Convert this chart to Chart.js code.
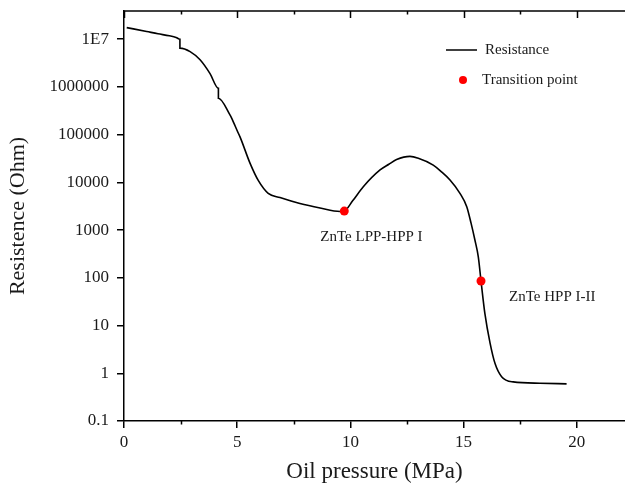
<!DOCTYPE html>
<html>
<head>
<meta charset="utf-8">
<script src="https://cdn.jsdelivr.net/npm/chart.js@4/dist/chart.umd.min.js"></script>
<style>
    html, body { margin: 0; padding: 0; background: #fff; }
    #wrap { width: 625px; height: 486px; }
</style>
</head>
<body>
<div id="wrap"><canvas id="resistance-chart" width="625" height="486"></canvas></div>
<script>
"use strict";

// Resistance curve (oil pressure in MPa, resistance in Ohm)
const pressure = [
    0.12, 1.0, 1.5, 2.0, 2.3, 2.47, 2.47, 2.92, 3.36, 3.8, 4.17, 4.17,
    4.68, 4.76, 5.05, 5.12, 5.57, 5.93, 6.37, 6.89, 7.77, 8.66, 9.54, 9.73,
    10.1, 10.57, 11.31, 11.7, 12.04, 12.63, 13.0, 13.66, 14.0, 14.4,
    14.84, 15.14, 15.33, 15.5, 15.65, 15.77, 15.94, 16.17, 16.39, 16.68, 17.19,
    18.37, 19.55
];
const resistance = [
    1.75e7, 1.45e7, 1.3e7, 1.18e7, 1.09e7, 1.0e7, 6.5e6, 5.5e6, 3.7e6, 1.9e6, 9.4e5, 5.8e5,
    2.6e5, 2.2e5, 1.07e5, 9.1e4, 2.5e4, 1.1e4, 5.9e3, 4.8e3, 3.6e3, 2.9e3, 2.45e3, 2.5e3,
    4.1e3, 8.1e3, 1.82e4, 2.4e4, 3.0e4, 3.5e4, 3.2e4, 2.3e4, 1.7e4, 1.12e4,
    5.9e3, 3.1e3, 1.4e3, 620, 275, 86, 18, 4.3, 1.6, 0.85, 0.66,
    0.62, 0.6
];

// Transition points
const transitionPressure = [9.73, 15.77];
const transitionResistance = [2500, 86];
const transitionLabels = ['ZnTe LPP-HPP I', 'ZnTe HPP I-II'];

// Axis ticks
const xMajorTicks = [0, 5, 10, 15, 20];
const xMinorTicks = [2.5, 7.5, 12.5, 17.5];
const yTicks = [0.1, 1, 10, 100, 1000, 10000, 100000, 1000000, 10000000];

const FONT = "'Liberation Serif', 'Times New Roman', serif";
const TEXT = '#1a1a1a';

/**
 * Top frame, minor ticks, legend and point labels
 */
const extrasPlugin = {
    id: 'extras',
    afterDraw(chart) {
        const ctx = chart.ctx;
        const area = chart.chartArea;
        const x = chart.scales.x;
        const y = chart.scales.y;

        ctx.save();
        ctx.strokeStyle = '#000';
        ctx.lineWidth = 1.5;

        // top frame line
        ctx.beginPath();
        ctx.moveTo(area.left, area.top);
        ctx.lineTo(area.right, area.top);
        ctx.stroke();

        // ticks on top (inward) and minor ticks at bottom (outward)
        ctx.beginPath();
        xMajorTicks.forEach(v => {
            const px = Math.round(x.getPixelForValue(v)) + 0.5;
            ctx.moveTo(px, area.top);
            ctx.lineTo(px, area.top + 7);
        });
        xMinorTicks.forEach(v => {
            const px = Math.round(x.getPixelForValue(v)) + 0.5;
            ctx.moveTo(px, area.top);
            ctx.lineTo(px, area.top + 3.5);
            ctx.moveTo(px, area.bottom);
            ctx.lineTo(px, area.bottom + 3.5);
        });
        ctx.stroke();

        // legend
        const lx = area.right - 179;
        const ly = area.top + 39;
        ctx.beginPath();
        ctx.lineWidth = 1.5;
        ctx.moveTo(lx, ly);
        ctx.lineTo(lx + 31, ly);
        ctx.stroke();

        ctx.fillStyle = '#ff0000';
        ctx.beginPath();
        ctx.arc(lx + 17, ly + 30, 4, 0, Math.PI * 2);
        ctx.fill();

        ctx.fillStyle = TEXT;
        ctx.font = '15px ' + FONT;
        ctx.textBaseline = 'middle';
        ctx.textAlign = 'left';
        ctx.fillText('Resistance', lx + 39, ly);
        ctx.fillText('Transition point', lx + 36, ly + 30);

        // transition labels, placed from the points
        const p1x = x.getPixelForValue(transitionPressure[0]);
        const p1y = y.getPixelForValue(transitionResistance[0]);
        ctx.fillText(transitionLabels[0], p1x - 24, p1y + 26);

        const p2x = x.getPixelForValue(transitionPressure[1]);
        const p2y = y.getPixelForValue(transitionResistance[1]);
        ctx.fillText(transitionLabels[1], p2x + 28, p2y + 16);

        ctx.restore();
    }
};

new Chart(document.getElementById('resistance-chart').getContext('2d'), {
    type: 'scatter',
    data: {
        datasets: [
            {
                label: 'Transition point',
                data: transitionPressure.map((p, i) => ({ x: p, y: transitionResistance[i] })),
                showLine: false,
                pointRadius: 4.5,
                pointBackgroundColor: '#ff0000',
                pointBorderWidth: 0,
                order: 0
            },
            {
                label: 'Resistance',
                data: pressure.map((p, i) => ({ x: p, y: resistance[i] })),
                showLine: true,
                borderColor: '#000',
                borderWidth: 1.6,
                cubicInterpolationMode: 'monotone',
                pointRadius: 0,
                order: 1
            }
        ]
    },
    options: {
        responsive: false,
        animation: false,
        devicePixelRatio: 1,
        layout: { autoPadding: false, padding: { top: 11, left: 0, right: 0, bottom: 0 } },
        plugins: {
            legend: { display: false },
            tooltip: { enabled: false }
        },
        scales: {
            x: {
                type: 'linear',
                min: 0,
                max: 22.13,
                afterBuildTicks: axis => { axis.ticks = xMajorTicks.map(v => ({ value: v })); },
                afterFit: axis => {
                    axis.height = 65;
                    axis.paddingLeft = 0;
                    axis.paddingRight = 0;
                },
                grid: {
                    display: true,
                    drawOnChartArea: false,
                    drawTicks: true,
                    tickLength: 7,
                    color: '#000',
                    lineWidth: 1.5
                },
                border: { display: true, color: '#000', width: 1.5 },
                ticks: {
                    color: TEXT,
                    font: { family: FONT, size: 17 },
                    padding: 4,
                    maxRotation: 0
                },
                title: {
                    display: true,
                    text: 'Oil pressure (MPa)',
                    color: TEXT,
                    font: { family: FONT, size: 23 },
                    padding: { top: 0, bottom: 0 }
                }
            },
            y: {
                type: 'logarithmic',
                min: 0.1,
                max: 3.9e7,
                afterBuildTicks: axis => { axis.ticks = yTicks.map(v => ({ value: v })); },
                afterFit: axis => {
                    axis.width = 124;
                    axis.paddingTop = 0;
                    axis.paddingBottom = 0;
                },
                grid: {
                    display: true,
                    drawOnChartArea: false,
                    drawTicks: true,
                    tickLength: 7,
                    color: '#000',
                    lineWidth: 1.5
                },
                border: { display: true, color: '#000', width: 1.5 },
                ticks: {
                    color: TEXT,
                    font: { family: FONT, size: 17 },
                    padding: 8,
                    callback: value => value === 1e7 ? '1E7' : String(value)
                },
                title: {
                    display: true,
                    text: 'Resistence (Ohm)',
                    color: TEXT,
                    font: { family: FONT, size: 22 },
                    padding: { top: 5, bottom: 0 }
                }
            }
        }
    },
    plugins: [extrasPlugin]
});
</script>
</body>
</html>
